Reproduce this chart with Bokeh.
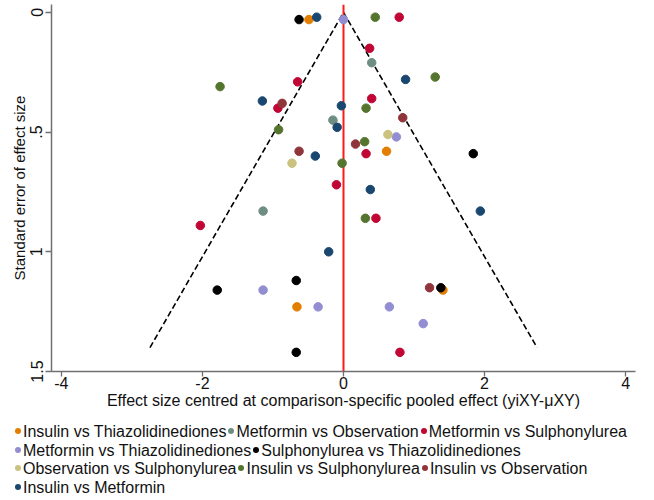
from bokeh.plotting import figure
from bokeh.layouts import column
from bokeh.models import Range1d, FixedTicker, Div
from bokeh.embed import file_html
from bokeh.resources import INLINE

# ---------------- data ----------------
series_names = [
    "Insulin vs Thiazolidinediones",
    "Metformin vs Observation",
    "Metformin vs Sulphonylurea",
    "Metformin vs Thiazolidinediones",
    "Sulphonylurea vs Thiazolidinediones",
    "Observation vs Sulphonylurea",
    "Insulin vs Sulphonylurea",
    "Insulin vs Observation",
    "Insulin vs Metformin",
]
series_colors = ["#e37e00", "#6e8e84", "#c10534", "#938dd2", "#000000",
                 "#cac27e", "#55752f", "#90353b", "#1a476f"]

ins_thz_x = [-0.49, 0.61, -0.66, 1.41]
ins_thz_se = [0.03, 0.58, 1.23, 1.16]

met_obs_x = [0.40, -0.15, -1.14]
met_obs_se = [0.21, 0.45, 0.83]

met_sul_x = [0.79, 0.37, -0.65, -0.93, 0.40, 0.32, -0.10, -2.03, 0.46, 0.80]
met_sul_se = [0.02, 0.15, 0.29, 0.40, 0.36, 0.59, 0.72, 0.89, 0.86, 1.42]

met_thz_x = [0.00, 0.75, -1.14, -0.36, 0.65, 1.13]
met_thz_se = [0.03, 0.52, 1.16, 1.23, 1.23, 1.30]

sul_thz_x = [-0.63, 1.84, -0.67, -1.79, 1.38, -0.67]
sul_thz_se = [0.03, 0.59, 1.12, 1.16, 1.15, 1.42]

obs_sul_x = [0.63, -0.73]
obs_sul_se = [0.51, 0.63]

ins_sul_x = [0.45, 1.30, -1.75, 0.32, -0.92, 0.30, -0.02, 0.31]
ins_sul_se = [0.02, 0.27, 0.31, 0.40, 0.49, 0.54, 0.63, 0.86]

ins_obs_x = [-0.87, 0.84, 0.17, -0.63, 1.22]
ins_obs_se = [0.38, 0.44, 0.55, 0.58, 1.15]

ins_met_x = [-0.38, 0.88, -1.15, -0.03, -0.09, -0.40, 0.38, -0.21, 1.94]
ins_met_se = [0.02, 0.28, 0.37, 0.39, 0.48, 0.60, 0.74, 1.00, 0.83]

series_x = [ins_thz_x, met_obs_x, met_sul_x, met_thz_x, sul_thz_x,
            obs_sul_x, ins_sul_x, ins_obs_x, ins_met_x]
series_se = [ins_thz_se, met_obs_se, met_sul_se, met_thz_se, sul_thz_se,
             obs_sul_se, ins_sul_se, ins_obs_se, ins_met_se]

pooled_effect = 0.0
z_value = 1.96
funnel_se_max = 1.40

x_ticks = [-4, -2, 0, 2, 4]
x_tick_labels = {-4: "-4", -2: "-2", 0: "0", 2: "2", 4: "4"}
y_ticks = [0, 0.5, 1, 1.5]
y_tick_labels = {0: "0", 0.5: ".5", 1: "1", 1.5: "1.5"}

x_min, x_max = -4.14, 4.14
se_top, se_bottom = -0.033, 1.5

legend_rows = [[0, 1, 2], [3, 4], [5, 6, 7], [8]]

FONT = "Liberation Sans"

# ---------------- main figure ----------------
p = figure(frame_width=584, frame_height=367, output_backend="svg",
           toolbar_location=None,
           x_range=Range1d(x_min, x_max), y_range=Range1d(se_bottom, se_top),
           min_border_left=51, min_border_right=3, min_border_top=4,
           min_border_bottom=0)
p.outline_line_color = None
p.grid.visible = False
p.background_fill_color = "white"
p.border_fill_color = "white"

# funnel (pseudo 95% CI)
p.line([-z_value * funnel_se_max, pooled_effect, z_value * funnel_se_max],
       [funnel_se_max, 0, funnel_se_max],
       line_color="black", line_width=1.6, line_dash="6 3")

# pooled effect line
p.segment(x0=[pooled_effect], y0=[se_top], x1=[pooled_effect], y1=[se_bottom],
          line_color="#ff1a1a", line_width=2)

for xs, ses, col in zip(series_x, series_se, series_colors):
    p.scatter(xs, ses, size=8.5, fill_color=col, line_color=col)

axis_col = "#707070"
for ax in (p.xaxis, p.yaxis):
    ax.axis_line_color = axis_col
    ax.axis_line_width = 1.5
    ax.major_tick_line_color = axis_col
    ax.major_tick_line_width = 1.3
    ax.major_tick_out = 6
    ax.major_tick_in = 0
    ax.minor_tick_line_color = None
    ax.major_label_text_font = FONT
    ax.major_label_text_font_size = "16px"
    ax.major_label_text_color = "#111111"
    ax.axis_label_text_font = FONT
    ax.axis_label_text_font_style = "normal"
    ax.axis_label_text_color = "#111111"

p.xaxis.ticker = FixedTicker(ticks=x_ticks)
p.xaxis.major_label_overrides = x_tick_labels
p.xaxis.major_tick_out = 5
p.xaxis.major_label_standoff = 0
p.xaxis.axis_label = "Effect size centred at comparison-specific pooled effect (yiXY-μXY)"
p.xaxis.axis_label_text_font_size = "16px"
p.xaxis.axis_label_standoff = 0

p.yaxis.ticker = FixedTicker(ticks=y_ticks)
p.yaxis.major_label_overrides = y_tick_labels
p.yaxis.major_label_orientation = "vertical"
p.yaxis.major_label_standoff = 3
p.yaxis.axis_label = "Standard error of effect size"
p.yaxis.axis_label_text_font_size = "15px"
p.yaxis.axis_label_standoff = 0

# ---------------- legend (flow layout, as in the original) ----------------
row_html = []
for row in legend_rows:
    parts = []
    for i in row:
        dot = ('<span style="display:inline-block;width:6px;height:6px;'
               'border-radius:50%;margin:0 2px 3px 2px;vertical-align:middle;'
               'background:{c};"></span>').format(c=series_colors[i])
        parts.append(dot + '<span>{}</span>'.format(series_names[i]))
    row_html.append('<div style="white-space:nowrap;height:18.5px;'
                    'line-height:18.5px;">' + "".join(parts) + "</div>")

legend_div = Div(text="".join(row_html), width=638, height=81,
                 styles={"font-family": FONT, "font-size": "16px",
                         "color": "#111111", "padding-top": "7px",
                         "padding-left": "8px", "box-sizing": "border-box",
                         "overflow": "hidden"})

layout = column(p, legend_div, spacing=0)
open("out.html", "w").write(file_html(layout, INLINE))
